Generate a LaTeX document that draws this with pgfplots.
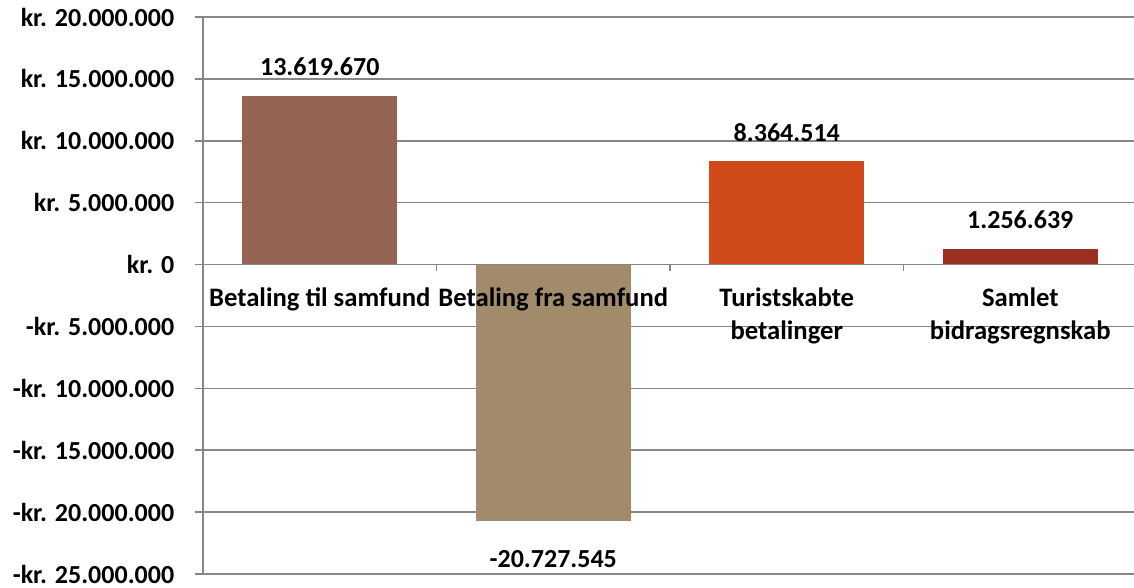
\documentclass[border=0pt]{standalone}
\usepackage{fontspec}
\setmainfont{Carlito}
\usepackage{pgfplots}
\pgfplotsset{compat=1.18}
\definecolor{cA}{RGB}{149,99,82}
\definecolor{cB}{RGB}{162,139,107}
\definecolor{cC}{RGB}{208,74,26}
\definecolor{cD}{RGB}{156,48,32}
\definecolor{gridc}{RGB}{134,134,134}
\newcommand{\lbl}{\bfseries\fontsize{19.5}{24.75}\selectfont}
\newcommand{\cat}{\bfseries\fontsize{20}{24.75}\selectfont}
\begin{document}
\begin{tikzpicture}
\begin{axis}[
  scale only axis, width=698.25pt, height=417.75pt,
  xmin=-0.5, xmax=3.487, ymin=-25000000, ymax=20000000,
  axis lines=left, axis line style={-, draw=gridc, line width=1.2pt},
  xtick=\empty, scaled y ticks=false,
  ytick={-25000000,-20000000,-15000000,-10000000,-5000000,0,5000000,10000000,15000000,20000000},
  yticklabels={-kr. 25.000.000,-kr. 20.000.000,-kr. 15.000.000,-kr. 10.000.000,-kr. 5.000.000,kr. 0,kr. 5.000.000,kr. 10.000.000,kr. 15.000.000,kr. 20.000.000},
  tick align=outside, major tick length=6pt,
  ytick style={draw=gridc, line width=1.2pt},
  ymajorgrids, grid style={draw=gridc, line width=1.2pt},
  yticklabel style={font=\lbl, text=black, xshift=-12pt},
  ybar, bar width=116.25pt, bar shift=0pt,
  point meta=explicit symbolic,
  clip=false,
]
\addplot[fill=cA, draw=none, nodes near coords, nodes near coords style={font=\lbl, anchor=base, yshift=15pt, text=black}]
  coordinates {(0,13619670) [13.619.670]};
\addplot[fill=cB, draw=none, nodes near coords, nodes near coords style={font=\lbl, anchor=base, yshift=-34.5pt, text=black}]
  coordinates {(1,-20727545) [-20.727.545]};
\addplot[fill=cC, draw=none, nodes near coords, nodes near coords style={font=\lbl, anchor=base, yshift=15pt, text=black}]
  coordinates {(2,8364514) [8.364.514]};
\addplot[fill=cD, draw=none, nodes near coords, nodes near coords style={font=\lbl, anchor=base, yshift=15pt, text=black}]
  coordinates {(3,1256639) [1.256.639]};
\draw[gridc, line width=1.2pt] (axis cs:-0.5,0) -- (axis cs:3.487,0);
\draw[gridc, line width=1.2pt] (axis cs:0.5,0) -- ([yshift=-5pt]axis cs:0.5,0);
\draw[gridc, line width=1.2pt] (axis cs:1.5,0) -- ([yshift=-5pt]axis cs:1.5,0);
\draw[gridc, line width=1.2pt] (axis cs:2.5,0) -- ([yshift=-5pt]axis cs:2.5,0);
\node[font=\cat, anchor=north, inner sep=0pt, align=center] at ([yshift=-17.5pt]axis cs:0,0) {Betaling til samfund};
\node[font=\cat, anchor=north, inner sep=0pt, align=center] at ([yshift=-17.5pt]axis cs:1,0) {Betaling fra samfund};
\node[font=\cat, anchor=north, inner sep=0pt, align=center] at ([yshift=-17.5pt]axis cs:2,0) {Turistskabte\\betalinger};
\node[font=\cat, anchor=north, inner sep=0pt, align=center] at ([yshift=-17.5pt]axis cs:3,0) {Samlet\\bidragsregnskab};
\end{axis}
\pgfresetboundingbox
\path ([xshift=-152.25pt,yshift=-10.5pt]current axis.south west) rectangle ([yshift=12.75pt]current axis.north east);
\end{tikzpicture}
\end{document}
